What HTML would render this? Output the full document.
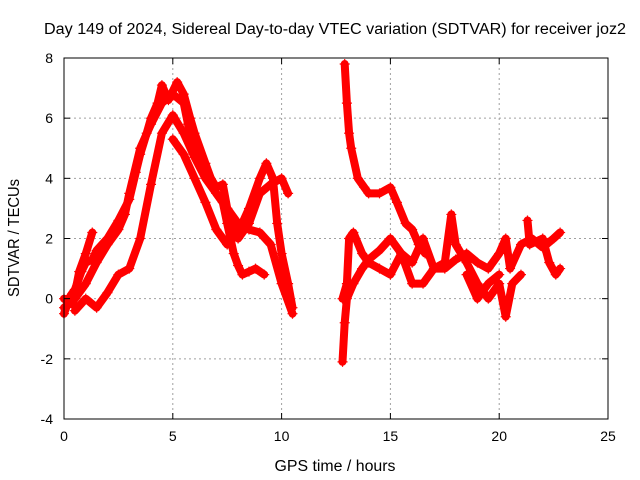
<!DOCTYPE html>
<html><head><meta charset="utf-8"><style>
body{margin:0;background:#fff}
svg{display:block;font-family:"Liberation Sans",sans-serif}
</style></head><body>
<svg id="chart" width="640" height="480" viewBox="0 0 640 480">
<text x="335" y="34" font-size="15.5" text-anchor="middle" textLength="582" lengthAdjust="spacingAndGlyphs">Day 149 of 2024, Sidereal Day-to-day VTEC variation (SDTVAR) for receiver joz2</text>
<text x="335" y="471" font-size="15.5" text-anchor="middle" textLength="121" lengthAdjust="spacingAndGlyphs">GPS time / hours</text>
<text transform="translate(19,238) rotate(-90)" font-size="15.5" text-anchor="middle" textLength="118" lengthAdjust="spacingAndGlyphs">SDTVAR / TECUs</text>
<g id="grid"></g><g id="marks"></g><g id="axes"></g>
</svg>
<script>
const xTicks=[0,5,10,15,20,25];
const yTicks=[-4,-2,0,2,4,6,8];
const traceA=[[0,-0.5],[0.3,0.1],[0.5,0.3],[0.8,0.9],[1,1.2],[1.3,1.3],[1.5,1.6],[2,2],[2.5,2.6],[3,3.3],[3.3,4.2],[3.5,4.8],[3.8,5.5],[4,6],[4.3,6.5],[4.5,7.1],[4.8,6.6],[5.2,7.2],[5.5,6.8],[5.8,6],[6,5.5],[6.5,4.5],[7,3.5],[7.3,3.2],[7.5,2.5],[7.8,1.5],[8,1.1],[8.2,0.8],[8.5,0.9],[8.8,1],[9.2,0.8]];
const traceB=[[0,-0.3],[0.5,0],[1,0.5],[1.5,1.2],[2,1.8],[2.5,2.3],[2.8,2.8],[3,3.5],[3.5,5],[4,5.8],[4.5,6.5],[5,6.8],[5.5,6.5],[5.7,5.8],[6,5],[6.5,4.3],[7,3.7],[7.3,3.8],[7.5,3],[8,2],[8.5,2.5],[9,3.5],[9.5,3.8],[10,4],[10.3,3.5]];
const traceC=[[0.5,-0.4],[1,0],[1.5,-0.3],[2,0.2],[2.5,0.8],[3,1],[3.5,2],[4,3.8],[4.5,5.5],[5,6.1],[5.5,5.5],[6,4.7],[6.5,4],[7,3.5],[7.5,3],[8,2.5],[8.5,2.3],[9,2.2],[9.5,1.8],[10,0.5],[10.5,-0.5]];
const traceD=[[5,5.3],[5.5,4.8],[6,4],[6.5,3.2],[7,2.3],[7.5,1.8],[8,2.2],[8.5,3],[9,4],[9.3,4.5],[9.6,4],[9.8,2.5],[10,1.5],[10.3,0.5],[10.5,-0.3]];
const traceE=[[0,0],[0.4,-0.2],[0.7,0.9],[1,1.5],[1.3,2.2]];
const traceF=[[12.9,7.8],[13,6.5],[13.1,5.5],[13.2,5],[13.5,4],[13.8,3.7],[14,3.5],[14.5,3.5],[15,3.7],[15.3,3.2],[15.7,2.5],[16,2.3],[16.3,1.8],[16.6,1.5]];
const traceG=[[12.8,-2.1],[12.9,-0.8],[13,0],[13.3,0.5],[13.7,1],[14,1.3],[14.5,1.6],[15,2],[15.5,1.5],[16,1.2],[16.5,2],[17,1],[17.5,1],[18,1.3],[18.5,1.5],[19,1.2],[19.5,1],[20,1.5],[20.3,2],[20.5,1],[21,1.8],[21.5,2],[22,1.7],[22.5,2],[22.8,2.2]];
const traceH=[[12.8,0],[13,0.5],[13.1,2],[13.3,2.2],[13.7,1.5],[14,1.2],[14.5,1],[15,0.8],[15.5,1.5],[16,0.5],[16.5,0.5],[17,1],[17.5,1.2],[17.8,2.8],[18,1.8],[18.5,1.2],[19,0.5],[19.5,0],[20,0.5],[20.3,-0.6],[20.6,0.5],[21,0.8]];
const traceI=[[21.3,2.6],[21.4,1.8],[22,2],[22.3,1.2],[22.6,0.8],[22.8,1]];
const traceJ=[[18.5,0.8],[19,0],[19.5,0.5],[20,0.8]];
const traces=[traceA,traceB,traceC,traceD,traceE,traceF,traceG,traceH,traceI,traceJ];
const L=64,R=608,T=58,B=419,xmin=0,xmax=25,ymin=-4,ymax=8;
const X=v=>L+(v-xmin)/(xmax-xmin)*(R-L);
const Y=v=>B-(v-ymin)/(ymax-ymin)*(B-T);
const NS='http://www.w3.org/2000/svg';
function mk(tag,attrs,parent){const e=document.createElementNS(NS,tag);for(const k in attrs)e.setAttribute(k,attrs[k]);parent.appendChild(e);return e;}
const grid=document.getElementById('grid'),axes=document.getElementById('axes'),marks=document.getElementById('marks');
xTicks.forEach(t=>{
  if(t>xmin&&t<xmax){const g=mk('line',{x1:X(t),x2:X(t),y1:T,y2:B,stroke:'#a0a0a0','stroke-dasharray':'2,3'},grid);
  
  }
  mk('line',{x1:X(t),x2:X(t),y1:B,y2:B-6,stroke:'#000'},axes);
  mk('line',{x1:X(t),x2:X(t),y1:T,y2:T+6,stroke:'#000'},axes);
  const lb=mk('text',{x:X(t),y:B+22,'font-size':14,'text-anchor':'middle'},axes);
  lb.textContent=t;
  
  
});
yTicks.forEach(t=>{
  if(t>ymin&&t<ymax){const g=mk('line',{x1:L,x2:R,y1:Y(t),y2:Y(t),stroke:'#a0a0a0','stroke-dasharray':'2,3'},grid);
  
  }
  mk('line',{x1:L,x2:L+6,y1:Y(t),y2:Y(t),stroke:'#000'},axes);
  mk('line',{x1:R,x2:R-6,y1:Y(t),y2:Y(t),stroke:'#000'},axes);
  const lb=mk('text',{x:L-11,y:Y(t)+5,'font-size':14,'text-anchor':'end'},axes);
  lb.textContent=t;
  
  
});
const frame=mk('rect',{x:L,y:T,width:R-L,height:B-T,fill:'none',stroke:'#000'},axes);


traces.forEach((tr,i)=>{
  const d=tr.map((p,j)=>(j?'L':'M')+X(p[0]).toFixed(1)+','+Y(p[1]).toFixed(1)).join('');
  const path=mk('path',{d:d,fill:'none',stroke:'#ff0000','stroke-width':8,'stroke-linejoin':'round','stroke-linecap':'round'},marks);
  
  
  tr.forEach(p=>{
    const x=X(p[0]),y=Y(p[1]);
    const m=mk('path',{d:`M${x-5},${y}H${x+5}M${x},${y-5}V${y+5}`,stroke:'#ff0000','stroke-width':1.2},marks);
    
    
  });
});
</script>
</body></html>
